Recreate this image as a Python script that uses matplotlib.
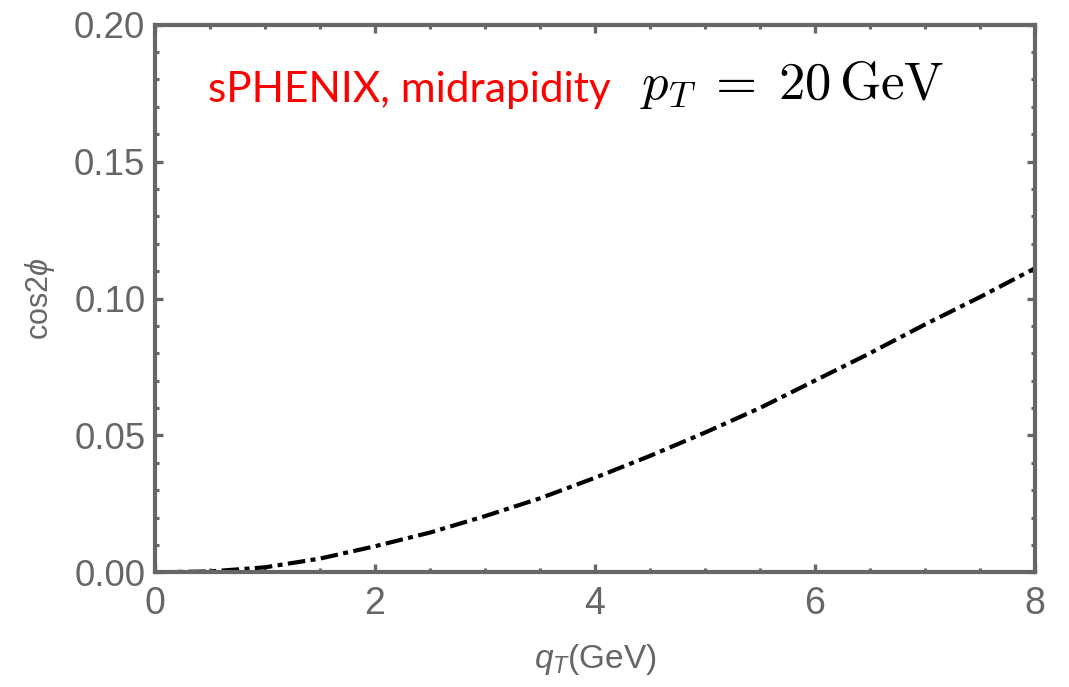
import matplotlib.pyplot as plt
from matplotlib.ticker import MultipleLocator

# values (q_T in GeV, cos2phi asymmetry)
qT = [0.0, 0.5, 1.0, 1.5, 2.0, 2.5, 3.0, 3.5, 4.0, 4.5, 5.0, 5.5, 6.0, 6.5, 7.0, 7.5, 8.0]
cos2phi = [0.0, 0.0003, 0.0018, 0.005, 0.0095, 0.0145, 0.0205, 0.027, 0.0345,
           0.0425, 0.051, 0.060, 0.070, 0.080, 0.0905, 0.1005, 0.111]

plt.rcParams['font.family'] = ['Liberation Sans', 'DejaVu Sans']
plt.rcParams['mathtext.fontset'] = 'custom'
plt.rcParams['mathtext.it'] = 'Liberation Sans:italic'
plt.rcParams['mathtext.rm'] = 'Liberation Sans'
gray = '#666666'

fig = plt.figure(figsize=(10.69, 6.87), dpi=100)
ax = fig.add_axes([0.145, 0.167, 0.823, 0.797])

ax.plot(qT, cos2phi, color='black', lw=3.0, dashes=(4.2, 1.3, 1.2, 1.3))

ax.set_xlim(0, 8)
ax.set_ylim(0, 0.2)
ax.xaxis.set_major_locator(MultipleLocator(2))
ax.xaxis.set_minor_locator(MultipleLocator(0.5))
ax.yaxis.set_major_locator(MultipleLocator(0.05))
ax.yaxis.set_minor_locator(MultipleLocator(0.01))
ax.yaxis.set_major_formatter(lambda v, p: f'{v:.2f}')
ax.xaxis.set_major_formatter(lambda v, p: f'{v:.0f}')

for s in ax.spines.values():
    s.set_color(gray)
    s.set_linewidth(3.0)
ax.tick_params(which='both', direction='in', top=True, right=True, color=gray)
ax.tick_params(which='major', length=6, width=2.4, labelcolor=gray)
ax.tick_params(which='minor', length=3, width=2.2)
ax.tick_params(axis='x', which='major', pad=10, labelsize=27)
ax.tick_params(axis='y', which='major', pad=7, labelsize=26.5)

ax.set_xlabel('$q_T$(GeV)', fontsize=24, color=gray, labelpad=14)
ax.set_ylabel('cos2$\\phi$', fontsize=22, color=gray, labelpad=12)

ax.text(0.060, 0.881, 'sPHENIX, midrapidity', transform=ax.transAxes,
        color='red', fontsize=30.5, family='Lato', va='center')
with plt.rc_context({'mathtext.fontset': 'cm'}):
    ax.text(0.551, 0.89, '$p_T\\;=\\;20\\,\\mathrm{GeV}$', transform=ax.transAxes,
            color='black', fontsize=38, va='center')

fig.savefig('out.png', dpi=100)
